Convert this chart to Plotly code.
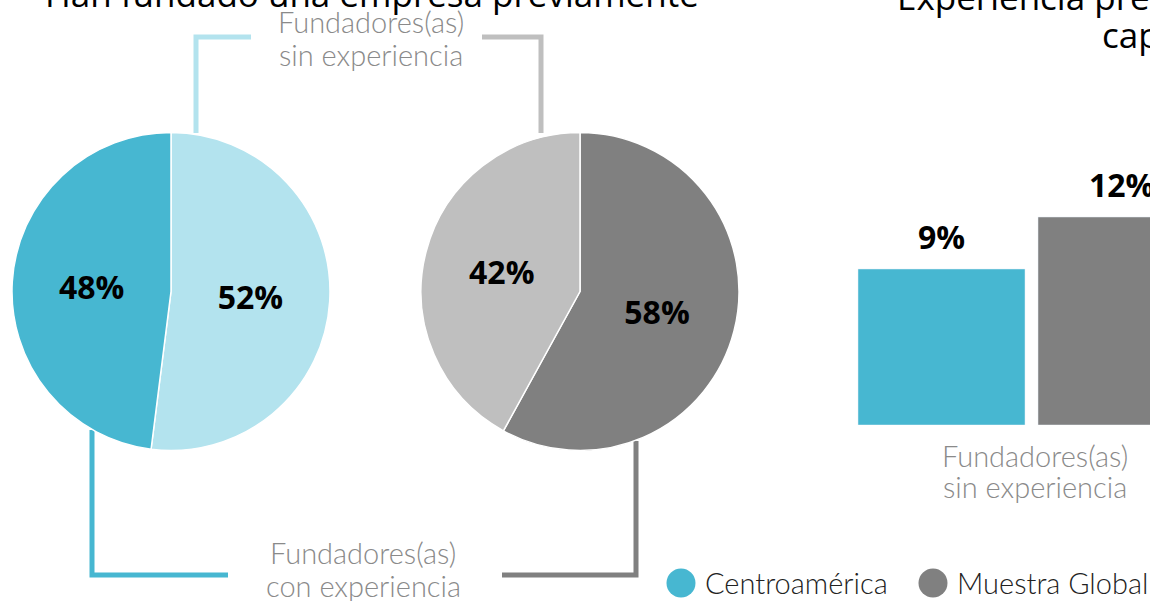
import plotly.graph_objects as go

W, H = 1150, 601

# ---- data ----
pie_groups = ["Centroamérica", "Muestra Global"]
pie1_labels = ["Fundadores(as) sin experiencia", "Fundadores(as) con experiencia"]
pie1_values = [52, 48]
pie2_labels = ["Fundadores(as) con experiencia", "Fundadores(as) sin experiencia"]
pie2_values = [58, 42]
bar_category = ["Fundadores(as)<br>sin experiencia"]
bar_centro = [9]
bar_global = [12]

C_CYAN = "#47B7D1"
C_CYAN_L = "#B3E3EE"
C_GRAY = "#808080"
C_GRAY_L = "#BFBFBF"
TXT_GRAY = "#8A8A8A"
LIGHT = "Lato"


def px(x):
    return x / W


def py(y):
    return 1 - y / H


fig = go.Figure()

pct_font = dict(family="Open Sans", size=32, color="black", weight="bold")

fig.add_trace(go.Pie(
    labels=pie1_labels, values=pie1_values, sort=False, direction="clockwise", rotation=0,
    marker=dict(colors=[C_CYAN_L, C_CYAN], line=dict(color="white", width=1.5)),
    texttemplate="%{value}%", textposition="inside",
    insidetextorientation="horizontal", textfont=pct_font,
    domain=dict(x=[px(12), px(330)], y=[py(451), py(132)]),
    showlegend=False, hoverinfo="label+value", name=pie_groups[0],
))
fig.add_trace(go.Pie(
    labels=pie2_labels, values=pie2_values, sort=False, direction="clockwise", rotation=0,
    marker=dict(colors=[C_GRAY, C_GRAY_L], line=dict(color="white", width=1.5)),
    texttemplate="%{value}%", textposition="inside",
    insidetextorientation="horizontal", textfont=pct_font,
    domain=dict(x=[px(421), px(739)], y=[py(451), py(132)]),
    showlegend=False, hoverinfo="label+value", name=pie_groups[1],
))

fig.add_trace(go.Bar(
    x=bar_category, y=bar_centro, name=pie_groups[0], marker_color=C_CYAN,
    showlegend=False, cliponaxis=False,
))
fig.add_trace(go.Bar(
    x=bar_category, y=bar_global, name=pie_groups[1], marker_color=C_GRAY,
    showlegend=False, cliponaxis=False,
))

unit = 400.0
group_w = 360.0
cat_center = 1031.5
x0_px, x1_px = 750, 1150
y_bottom_px, y_top_px = 425, 100
px_per_unit_y = 156 / 9.0

fig.update_layout(
    width=W, height=H, margin=dict(l=0, r=0, t=0, b=0),
    paper_bgcolor="white", plot_bgcolor="white",
    barmode="group", bargap=1 - group_w / unit, bargroupgap=13 / (group_w / 2),
    xaxis=dict(domain=[px(x0_px), px(x1_px)],
               range=[-(cat_center - x0_px) / unit, (x1_px - cat_center) / unit],
               showgrid=False, zeroline=False, showline=False, ticks="",
               showticklabels=False),
    yaxis=dict(domain=[py(y_bottom_px), py(y_top_px)],
               range=[0, (y_bottom_px - y_top_px) / px_per_unit_y],
               visible=False),
    font=dict(family=LIGHT),
)

gray_font = dict(family=LIGHT, size=29, color=TXT_GRAY, weight=300)

# category label under the bars (two lines, tighter spacing)
for cat in bar_category:
    for line, yy in zip(cat.split("<br>"), [455, 487]):
        fig.add_annotation(x=cat, y=py(yy), xref="x", yref="paper", text=line,
                           showarrow=False, xanchor="center", yanchor="middle",
                           xshift=3, font=gray_font)

# bar value labels (from data)
for vals, shift in [(bar_centro, -group_w / 4), (bar_global, group_w / 4)]:
    for cat, v in zip(bar_category, vals):
        fig.add_annotation(x=cat, y=v, xref="x", yref="y", text=f"{v}%", showarrow=False,
                           xanchor="center", yanchor="bottom", xshift=shift, yshift=9,
                           font=pct_font)

# connector lines
line_w = 5
paths = [
    (C_CYAN_L, [(196, 133), (196, 37), (251, 37)]),
    (C_GRAY_L, [(541, 133), (541, 37), (482, 37)]),
    (C_CYAN, [(92, 430), (92, 575), (228, 575)]),
    (C_GRAY, [(636, 441), (636, 575), (502, 575)]),
]
for col, pts in paths:
    d = "M " + " L ".join(f"{px(x)} {py(y)}" for x, y in pts)
    fig.add_shape(type="path", path=d, xref="paper", yref="paper",
                  line=dict(color=col, width=line_w), layer="below")

for lines, cx, ys in [(["Fundadores(as)", "sin experiencia"], 371, [22, 54]),
                      (["Fundadores(as)", "con experiencia"], 363, [552, 585])]:
    for line, yy in zip(lines, ys):
        fig.add_annotation(text=line, x=px(cx), y=py(yy), xref="paper", yref="paper",
                           showarrow=False, font=gray_font, xanchor="center", yanchor="middle")

title_font = dict(family="Open Sans", size=35, color="black")
fig.add_annotation(text="Han fundado una empresa previamente", x=px(372), y=py(19),
                   xref="paper", yref="paper", showarrow=False, font=title_font,
                   xanchor="center", yanchor="bottom")
fig.add_annotation(text="Experiencia previa en", x=px(895), y=py(22),
                   xref="paper", yref="paper", showarrow=False, font=title_font,
                   xanchor="left", yanchor="bottom")
fig.add_annotation(text="capital de riesgo", x=px(1100), y=py(60),
                   xref="paper", yref="paper", showarrow=False, font=title_font,
                   xanchor="left", yanchor="bottom")

# legend
leg_font = dict(family=LIGHT, size=29, color="#222222", weight=300)
for name, col, cx in [(pie_groups[0], C_CYAN, 681), (pie_groups[1], C_GRAY, 933)]:
    r = 14.5
    fig.add_shape(type="circle", xref="paper", yref="paper",
                  x0=px(cx - r), x1=px(cx + r), y0=py(583 + r), y1=py(583 - r),
                  fillcolor=col, line=dict(width=0))
    fig.add_annotation(text=name, x=px(cx + r + 7), y=py(582), xref="paper", yref="paper",
                       showarrow=False, font=leg_font, xanchor="left", yanchor="middle")

fig.write_html("out.html", config={"displayModeBar": False},
               post_script="document.body.style.margin='0px';")
